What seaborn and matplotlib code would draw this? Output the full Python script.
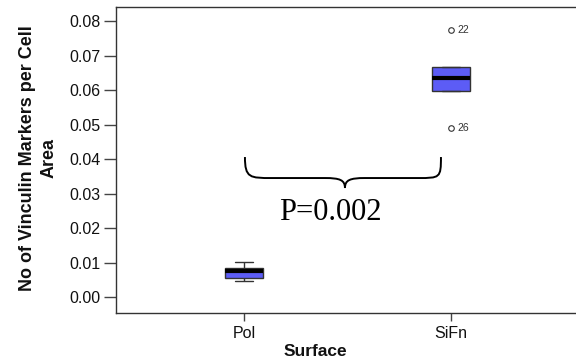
import numpy as np
import pandas as pd
import matplotlib
matplotlib.use("Agg")
import matplotlib.pyplot as plt
import seaborn as sns
from matplotlib.path import Path
from matplotlib.patches import PathPatch

# ---- data ----
surfaces = ["Pol", "SiFn"]
pol_values = [0.0047, 0.0057, 0.0078, 0.0085, 0.0102]
sifn_values = [0.0490, 0.0598, 0.0598, 0.0635, 0.0667, 0.0667, 0.0774]
outlier_values = [0.0774, 0.0490]
outlier_labels = ["22", "26"]
y_ticks = [0.00, 0.01, 0.02, 0.03, 0.04, 0.05, 0.06, 0.07, 0.08]
p_label = "P=0.002"
y_title = "No of Vinculin Markers per Cell\nArea"
x_title = "Surface"

df = pd.DataFrame({
    "Surface": ["Pol"] * len(pol_values) + ["SiFn"] * len(sifn_values),
    "value": pol_values + sifn_values,
})

sns.set_style("white")
plt.rcParams["font.family"] = ["Liberation Sans", "DejaVu Sans"]

fig = plt.figure(figsize=(5.76, 3.64), dpi=100)
ax = fig.add_axes([0.2014, 0.1401, 0.7986, 0.8407])

sns.boxplot(
    data=df, x="Surface", y="value", order=surfaces, ax=ax,
    color="#5c5cf6", saturation=1, width=0.18,
    linecolor="#333333", linewidth=1.0,
    medianprops=dict(color="black", linewidth=3),
    flierprops=dict(marker="o", markerfacecolor="none",
                    markeredgecolor="#333333", markeredgewidth=0.8),
    fliersize=4,
)

# outlier case labels
for v, lab in zip(outlier_values, outlier_labels):
    ax.annotate(lab, xy=(1, v), xytext=(5, 0), textcoords="offset points",
                fontsize=7.5, color="#333333", va="center", ha="left")

ax.set_xlim(-0.618, 1.604)
ax.set_ylim(-0.0045, 0.0841)
ax.set_yticks(y_ticks)
ax.set_yticklabels([f"{t:.2f}" for t in y_ticks])

for side in ["left", "top", "bottom"]:
    ax.spines[side].set_color("#333333")
    ax.spines[side].set_linewidth(1.0)
ax.spines["right"].set_visible(False)

ax.tick_params(axis="y", direction="out", length=9, width=1, color="#444444",
               labelsize=11.5, pad=2, left=True, labelcolor="#111111")
ax.tick_params(axis="x", direction="out", length=6, width=1, color="#444444",
               labelsize=11.5, pad=3, bottom=True, labelcolor="#111111")

ax.set_ylabel(y_title, fontsize=13, fontweight="bold", linespacing=1.38,
              color="#111111")
ax.yaxis.set_label_coords((58 - 116) / 460.0, (313 - 158) / 306.0)
ax.set_xlabel(x_title, fontsize=12.5, fontweight="bold", color="#111111")
ax.xaxis.set_label_coords((315 - 116) / 460.0, -0.1)

# curly brace annotation (in data coordinates)
def bx(px):
    return (px - 244) / 207.0

def by(py):
    return (297.5 - py) / 3456.0

verts = [
    (bx(245), by(157)),
    (bx(245), by(178)), (bx(250), by(178)), (bx(272), by(178)),
    (bx(325), by(178)),
    (bx(340), by(178)), (bx(345), by(180)), (bx(345), by(188)),
    (bx(345), by(180)), (bx(350), by(178)), (bx(365), by(178)),
    (bx(418), by(178)),
    (bx(440), by(178)), (bx(441), by(178)), (bx(441), by(157)),
]
codes = [Path.MOVETO,
         Path.CURVE4, Path.CURVE4, Path.CURVE4,
         Path.LINETO,
         Path.CURVE4, Path.CURVE4, Path.CURVE4,
         Path.CURVE4, Path.CURVE4, Path.CURVE4,
         Path.LINETO,
         Path.CURVE4, Path.CURVE4, Path.CURVE4]
ax.add_patch(PathPatch(Path(verts, codes), facecolor="none", edgecolor="black",
                       linewidth=1.4, clip_on=False))

ax.text(bx(330), by(212), p_label, family=["Liberation Serif", "DejaVu Serif"],
        fontsize=22, ha="center", va="center", color="black")

fig.savefig("out.png", dpi=100)
